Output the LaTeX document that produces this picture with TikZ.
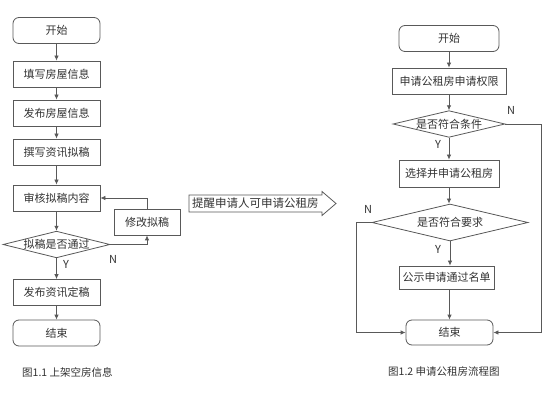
\documentclass[tikz,border=0pt]{standalone}
\usepackage{fontspec}
\setmainfont{Noto Sans CJK SC}
\usetikzlibrary{shapes.geometric,arrows.meta}
\definecolor{ln}{HTML}{595959}
\definecolor{tx}{HTML}{333333}
\tikzset{
  box/.style={draw=ln, line width=0.8pt, minimum width=87pt, minimum height=26pt, inner sep=0pt, text=tx, font=\fontsize{11}{13}\selectfont},
  term/.style={box, rounded corners=6pt},
  dec/.style={draw=ln, line width=0.8pt, diamond, shape aspect=4, inner sep=0pt, text=tx, font=\fontsize{11}{13}\selectfont},
  conn/.style={draw=ln, line width=0.8pt, -{Latex[length=5pt,width=4.5pt]}},
  lbl/.style={text=tx, font=\fontsize{11}{13}\selectfont, inner sep=0pt},
  captxt/.style={text=tx, font=\fontsize{10.5}{12}\selectfont, inner sep=0pt},
}
\begin{document}
\begin{tikzpicture}[x=1pt,y=-1pt]
\useasboundingbox[fill=white] (0,0) rectangle (554,403);
% left flow
\node[term] (s1) at (56.5,30.5) {开始};
\node[box] (a1) at (56.5,74) {填写房屋信息};
\node[box] (a2) at (56.5,113) {发布房屋信息};
\node[box] (a3) at (56.5,152) {撰写资讯拟稿};
\node[box] (a4) at (56.5,198) {审核拟稿内容};
\node[box, minimum width=66pt] (a5) at (147,222) {修改拟稿};
\node[dec, minimum width=106pt, minimum height=25pt] (d1) at (56.5,244.5) {拟稿是否通过};
\node[box] (a6) at (56.5,292.5) {发布资讯定稿};
\node[term] (e1) at (56.5,333) {结束};
\draw[conn] (s1) -- (a1);
\draw[conn] (a1) -- (a2);
\draw[conn] (a2) -- (a3);
\draw[conn] (a3) -- (a4);
\draw[conn] (a4) -- (d1);
\draw[conn] (d1) -- (a6);
\draw[conn] (a6) -- (e1);
\draw[conn] (d1.east) -| (a5.south);
\draw[conn] (a5.north) |- (a4.east);
\node[lbl] (n1) at (113,259) {N};
\node[lbl] (y1) at (66,264) {Y};
\node[captxt, anchor=west] (c1) at (22,372) {图1.1 上架空房信息};
% middle arrow
\draw[ln, line width=0.8pt, fill=white] (189,195) -- (322,195) -- (322,191.5) -- (336,203.5) -- (322,215.5) -- (322,212) -- (189,212) -- cycle;
\node[lbl, anchor=west, font=\fontsize{11.5}{13}\selectfont] (m1) at (192,203.5) {提醒申请人可申请公租房};
% right flow
\node[term, minimum width=100pt] (s2) at (449,38.5) {开始};
\node[box, minimum width=114pt] (b1) at (449,81) {申请公租房申请权限};
\node[dec, minimum width=112pt, minimum height=26pt] (d2) at (449,124) {是否符合条件};
\node[box, minimum width=100pt, minimum height=27pt] (b2) at (449,173.5) {选择并申请公租房};
\node[dec, minimum width=156pt, minimum height=37pt] (d3) at (450,222.5) {是否符合要求};
\node[box, minimum width=95pt, minimum height=23pt] (b3) at (446.5,277.5) {公示申请通过名单};
\node[term, minimum width=87pt, minimum height=25pt] (e2) at (449.5,332.5) {结束};
\coordinate (r1) at (541,124);
\coordinate (l1) at (356,222.5);
\draw[conn] (s2) -- (b1);
\draw[conn] (b1) -- (d2);
\draw[conn] (d2) -- (b2);
\draw[conn] (b2.south) -- (b2.south |- d3.north);
\draw[conn] (d3) -- (d3.south |- b3.north);
\draw[conn] (b3.south -| e2.north) -- (e2.north);
\draw[conn] (d2.east) -- (r1) |- (e2.east);
\draw[conn] (d3.west) -- (l1) |- (e2.west);
\node[lbl] (n2) at (511,110) {N};
\node[lbl] (y2) at (438,144) {Y};
\node[lbl] (n3) at (368,209) {N};
\node[lbl] (y3) at (438,249) {Y};
\node[captxt, anchor=west] (c2) at (388,372) {图1.2 申请公租房流程图};
\end{tikzpicture}
\end{document}
